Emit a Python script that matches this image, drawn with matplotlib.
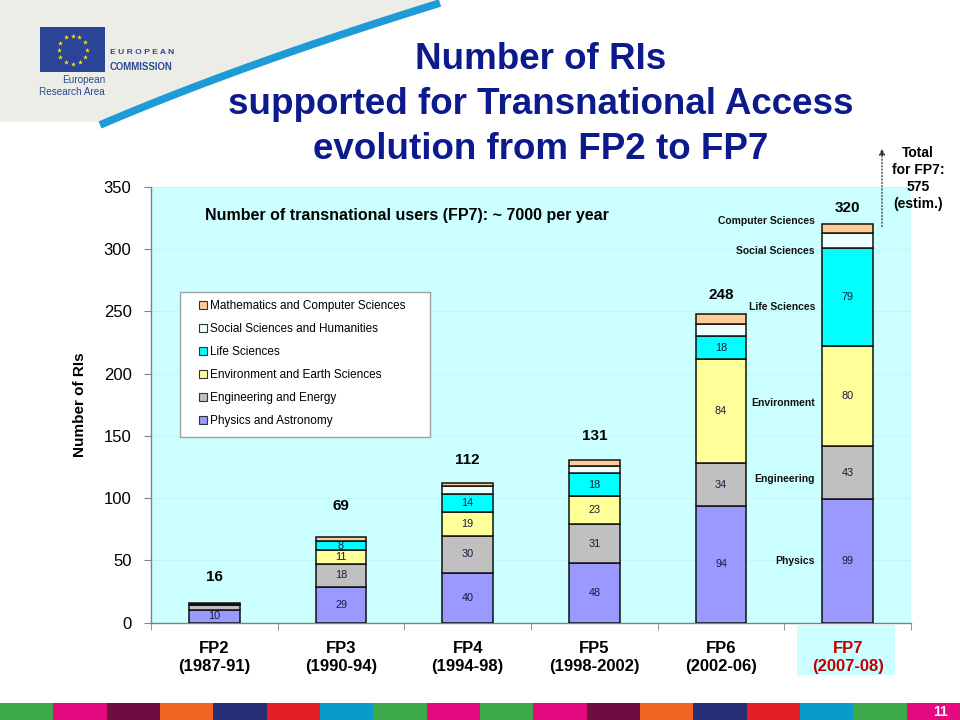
import matplotlib
matplotlib.use('Agg')
import matplotlib.pyplot as plt
import numpy as np
from matplotlib.patches import Rectangle, Polygon
from matplotlib import font_manager

# ---------------- data ----------------
periods = ["FP2", "FP3", "FP4", "FP5", "FP6", "FP7"]
years = ["(1987-91)", "(1990-94)", "(1994-98)", "(1998-2002)", "(2002-06)", "(2007-08)"]
physics = [10, 29, 40, 48, 94, 99]
engineering = [4, 18, 30, 31, 34, 43]
environment = [0, 11, 19, 23, 84, 80]
life_sciences = [1, 8, 14, 18, 18, 79]
social_sciences = [0, 0, 7, 6, 10, 12]
maths_computer = [1, 3, 2, 5, 8, 7]
totals = [16, 69, 112, 131, 248, 320]
series_names = ["Physics and Astronomy", "Engineering and Energy",
                "Environment and Earth Sciences", "Life Sciences",
                "Social Sciences and Humanities", "Mathematics and Computer Sciences"]
y_ticks = [0, 50, 100, 150, 200, 250, 300, 350]
fp7_side_labels = ["Physics", "Engineering", "Environment", "Life Sciences",
                   "Social Sciences", "Computer Sciences"]

# ---------------- style ----------------
colors = ["#9999FF", "#C0C0C0", "#FFFF99", "#00FFFF", "#EEFFFF", "#FFCC99"]
label_offsets = [21, 25, 19, 19, 15, 13]
side_label_y = [49.6, 115.4, 176.5, 253.6, 298.6, 322.7]

avail = {f.name for f in font_manager.fontManager.ttflist}
SANS = "Liberation Sans" if "Liberation Sans" in avail else "DejaVu Sans"
plt.rcParams['font.family'] = [SANS, "DejaVu Sans"]

W, H = 960, 720
fig = plt.figure(figsize=(9.6, 7.2), dpi=100)
fig.patch.set_facecolor("white")

# background decoration axes (pixel coordinates)
bg = fig.add_axes([0, 0, 1, 1], zorder=-5)
bg.set_xlim(0, W)
bg.set_ylim(H, 0)
bg.axis("off")

# grey logo region bounded by a swoosh
t = np.linspace(0, 1, 60)
p0, p1, p2 = np.array([100, 122]), np.array([240, 62]), np.array([440, 0])
curve = ((1 - t) ** 2)[:, None] * p0 + (2 * (1 - t) * t)[:, None] * p1 + (t ** 2)[:, None] * p2
poly = np.vstack([[0, 0], [0, 122], curve, [440, 0]])
bg.add_patch(Polygon(poly, closed=True, facecolor="#EDEDE8", edgecolor="none"))
bg.plot(curve[:, 0], curve[:, 1] + 3, color="#1E9BD7", lw=5.5, solid_capstyle="butt")

# EU flag
bg.add_patch(Rectangle((40, 27), 65, 45, facecolor="#2A4597", edgecolor="none"))
ang = np.linspace(0, 2 * np.pi, 13)[:-1]
bg.scatter(72.5 + 14 * np.cos(ang), 49.5 + 14 * np.sin(ang), marker="*", s=14,
           color="#FFE500", linewidths=0)
bg.text(110, 53, "E U R O P E A N", fontsize=6.1, color="#2A4A93", fontweight="bold",
        ha="left", va="center")
bg.text(110, 67, "COMMISSION", fontsize=6.9, color="#2A4A93", fontweight="bold",
        ha="left", va="center")
bg.text(105, 80, "European", fontsize=7.2, color="#2A4A93", ha="right", va="center")
bg.text(105, 92, "Research Area", fontsize=7.2, color="#2A4A93", ha="right", va="center")

# bottom coloured strip
strip_cols = ["#3DAA4A", "#E5097F", "#6E0D40", "#F26522", "#263077", "#E31E26", "#0A9CC8",
              "#3DAA4A", "#E5097F", "#3DAA4A", "#E5097F", "#6E0D40", "#F26522", "#263077",
              "#E31E26", "#0A9CC8", "#3DAA4A", "#E5097F"]
sw = W / len(strip_cols)
for i, c in enumerate(strip_cols):
    bg.add_patch(Rectangle((i * sw, 703), sw + 0.5, 17, facecolor=c, edgecolor="none"))
bg.text(940, 711.5, "11", color="white", fontsize=10, fontweight="bold", ha="center", va="center")

# FP7 x-label box
bg.add_patch(Rectangle((797, 625), 98, 50, facecolor="#CCFFFF", edgecolor="none"))

# ---------------- main chart ----------------
left, right, top, bottom = 151, 911, 187, 622.7
ax = fig.add_axes([left / W, 1 - bottom / H, (right - left) / W, (bottom - top) / H])
ax.set_facecolor("#CCFFFF")

x = np.arange(len(periods))
series = [physics, engineering, environment, life_sciences, social_sciences, maths_computer]
base = np.zeros(len(periods))
handles = []
for k, (vals, col, name) in enumerate(zip(series, colors, series_names)):
    vals = np.array(vals, dtype=float)
    bars = ax.bar(x, vals, 0.4, bottom=base, color=col, edgecolor="#111111",
                  linewidth=1.1, label=name, zorder=3)
    handles.append(bars)
    if k < 4:
        for xi, v, b in zip(x, vals, base):
            if v >= 8:
                ax.text(xi, b + v / 2, f"{int(v)}", ha="center", va="center",
                        fontsize=7.8, color="#1a1a40", zorder=4)
    base = base + vals

for xi, tot, off in zip(x, totals, label_offsets):
    ax.text(xi, tot + off, f"{tot}", ha="center", va="center", fontsize=11,
            fontweight="bold", color="black", zorder=4)

for lab, yy in zip(fp7_side_labels, side_label_y):
    ax.text(4.742, yy, lab, ha="right", va="center", fontsize=7.5,
            fontweight="bold", color="#111111", zorder=4)

ax.text(-0.074, 327.4, "Number of transnational users (FP7): ~ 7000 per year",
        ha="left", va="center", fontsize=11.5, fontweight="bold", color="black")

ax.set_xlim(-0.5, 5.5)
ax.set_ylim(0, 350)
ax.set_yticks(y_ticks)
ax.set_yticklabels([str(v) for v in y_ticks], fontsize=12)
ax.set_xticks(x)
ax.set_xticklabels([f"{p}\n{yv}" for p, yv in zip(periods, years)],
                   fontsize=12, fontweight="bold", linespacing=1.3)
ax.set_xticks(np.arange(-0.5, 6.0, 1.0), minor=True)
ax.tick_params(axis="x", which="major", length=0, pad=13)
ax.tick_params(axis="x", which="minor", length=5, color="#808080", direction="out")
ax.tick_params(axis="y", length=5, color="#808080", pad=9)
xl = ax.get_xticklabels()
xl[-1].set_color("#C00000")

for s in ["top", "right"]:
    ax.spines[s].set_visible(False)
for s in ["left", "bottom"]:
    ax.spines[s].set_color("#808080")
    ax.spines[s].set_linewidth(1.0)

ax.yaxis.grid(True, color="#C4F2F2", lw=0.6, zorder=0)
ax.set_axisbelow(True)

ax.set_ylabel("Number of RIs", fontsize=11, fontweight="bold")
ax.yaxis.set_label_coords(-0.084, 0.5)

# legend with separate box
ax.add_patch(Rectangle((180 / W, 1 - 437 / H), 250 / W, 145 / H,
                       transform=fig.transFigure, facecolor="white",
                       edgecolor="#A0A0A0", linewidth=1.0, zorder=6, clip_on=False))
leg = ax.legend(handles[::-1], series_names[::-1], loc="upper left",
                bbox_to_anchor=(199 / W, 1 - 300 / H), bbox_transform=fig.transFigure,
                fontsize=8.5, frameon=False, handlelength=0.7,
                handleheight=0.7, handletextpad=0.25, labelspacing=0.94,
                borderpad=0, borderaxespad=0)
leg.set_zorder(7)
for p in leg.get_patches():
    p.set_linewidth(0.8)
    p.set_edgecolor("#333333")

# arrow for FP7 total
ax.annotate("", xy=(5.271, 383), xytext=(5.271, 316), xycoords="data",
            arrowprops=dict(arrowstyle="-|>", linestyle=":", color="#333333",
                            lw=0.9, mutation_scale=9),
            annotation_clip=False)

# ---------------- texts in figure coords ----------------
fig.text(918 / W, 1 - 178.5 / H, "Total\nfor FP7:\n575\n(estim.)", ha="center",
         va="center", fontsize=10, fontweight="bold", linespacing=1.28)

fig.text(541 / W, 1 - 104.5 / H,
         "Number of RIs\nsupported for Transnational Access\nevolution from FP2 to FP7",
         ha="center", va="center", fontsize=26.5, fontweight="bold",
         color="#0D1A8C", linespacing=1.36)

fig.savefig("out.png", dpi=100, facecolor=fig.get_facecolor())
